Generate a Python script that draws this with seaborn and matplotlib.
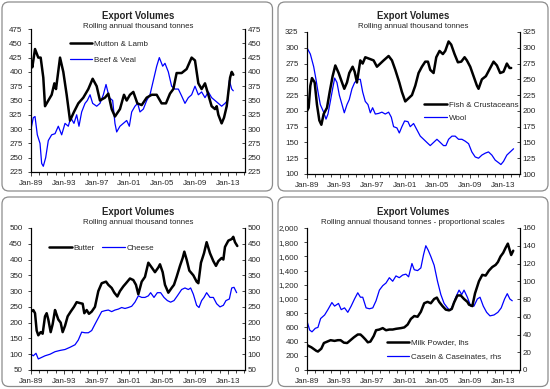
import matplotlib
matplotlib.use("Agg")
import matplotlib.pyplot as plt
import seaborn as sns
import pandas as pd
import numpy as np
from matplotlib.patches import FancyBboxPatch
from matplotlib.transforms import IdentityTransform
from matplotlib.ticker import FuncFormatter, MultipleLocator

sns.set_style("white")
plt.rcParams['font.family'] = ['Liberation Sans', 'DejaVu Sans']

# ---------------- data (decimal years, values) ----------------
mutton_t = [1989.0,1989.16,1989.49,1989.89,1990.18,1990.5,1990.71,1991.11,1991.52,1991.85,1992.05,1992.54,1992.94,1993.35,1993.76,1994.24,1994.77,1995.38,1995.99,1996.52,1997.01,1997.41,1998.02,1998.43,1998.84,1999.24,1999.85,2000.34,2000.67,2001.07,2001.48,2001.97,2002.5,2003.11,2003.72,2004.33,2004.93,2005.46,2005.95,2006.36,2006.76,2007.37,2007.98,2008.59,2009.0,2009.41,2009.81,2010.22,2010.63,2011.03,2011.44,2011.65,2011.85,2012.25,2012.54,2012.87,2013.28,2013.48,2013.67]
mutton_v = [420,408,440,425,425,390,340,350,360,380,370,425,400,360,315,330,345,355,370,388,375,350,355,362,335,322,335,360,350,360,365,345,342,355,360,360,345,345,362,370,398,398,405,425,420,380,370,380,360,340,335,340,325,310,320,340,390,400,395]

beef_t = [1989.0,1989.28,1989.49,1989.77,1990.1,1990.3,1990.5,1990.79,1991.11,1991.52,1991.93,1992.33,1992.74,1993.15,1993.55,1993.84,1994.24,1994.57,1994.85,1995.18,1995.59,1995.87,1996.2,1996.52,1997.01,1997.41,1997.82,1998.15,1998.55,1998.96,1999.24,1999.45,1999.85,2000.26,2000.67,2000.99,2001.28,2001.68,2002.01,2002.29,2002.7,2003.11,2003.51,2003.92,2004.33,2004.65,2005.06,2005.34,2005.75,2006.15,2006.56,2006.97,2007.37,2007.78,2008.19,2008.59,2009.0,2009.41,2009.81,2010.22,2010.63,2011.03,2011.44,2011.85,2012.25,2012.66,2012.98,2013.19,2013.48,2013.67]
beef_v = [300,320,322,290,275,240,235,250,280,290,292,305,290,310,305,320,310,325,305,330,345,350,360,345,340,345,360,378,355,350,310,295,305,310,315,305,330,340,345,330,335,350,360,385,410,425,410,415,400,375,370,370,358,345,355,360,375,360,365,355,365,355,350,345,340,345,350,385,370,367]

fish_t = [1989.0,1989.2,1989.41,1989.61,1989.94,1990.22,1990.51,1990.76,1991.04,1991.45,1991.78,1992.14,1992.47,1992.88,1993.29,1993.57,1993.9,1994.18,1994.59,1994.84,1995.12,1995.53,1995.82,1996.14,1996.76,1997.16,1997.57,1997.98,1998.39,1999.0,1999.41,1999.82,2000.31,2000.63,2001.04,2001.45,2001.86,2002.27,2002.67,2003.08,2003.49,2003.82,2004.1,2004.51,2004.84,2005.24,2005.65,2005.94,2006.35,2006.67,2007.08,2007.49,2007.9,2008.31,2008.59,2009.0,2009.41,2009.82,2010.02,2010.43,2010.92,2011.45,2011.86,2012.27,2012.67,2013.08,2013.49,2013.82,2014.02]
fish_v = [200,205,240,252,245,210,185,178,195,205,230,255,272,260,245,235,245,260,270,262,245,280,275,285,282,280,270,275,280,287,280,265,245,230,215,220,225,240,260,270,278,278,265,260,285,295,290,295,310,305,290,277,278,285,280,270,255,240,235,250,255,268,278,272,260,262,275,268,268]

wool_t = [1989.0,1989.41,1989.82,1990.1,1990.35,1990.63,1991.04,1991.33,1991.57,1991.86,1992.14,1992.39,1992.67,1992.96,1993.29,1993.57,1993.9,1994.18,1994.51,1994.84,1995.24,1995.53,1995.82,1996.14,1996.47,1996.76,1997.04,1997.37,1997.78,1998.18,1998.59,1999.0,1999.33,1999.61,2000.02,2000.31,2000.63,2000.96,2001.37,2001.65,2002.06,2002.47,2002.88,2003.29,2003.69,2004.1,2004.51,2004.92,2005.33,2005.73,2006.02,2006.35,2006.76,2007.16,2007.57,2007.98,2008.39,2008.8,2009.2,2009.61,2010.02,2010.43,2010.84,2011.24,2011.65,2012.06,2012.47,2012.76,2013.08,2013.49,2013.9,2014.31]
wool_v = [300,290,270,250,230,210,198,187,195,215,235,252,245,225,210,197,210,218,235,245,250,250,230,215,210,197,205,195,196,198,195,198,190,175,173,165,175,184,183,175,180,170,160,155,150,145,150,155,150,145,145,155,160,160,155,155,152,148,135,127,125,130,133,135,130,122,118,115,120,130,135,140]

butter_t = [1989.0,1989.28,1989.49,1989.69,1989.89,1990.18,1990.42,1990.71,1990.91,1991.11,1991.4,1991.64,1991.93,1992.13,1992.33,1992.62,1992.86,1993.15,1993.47,1993.84,1994.24,1994.57,1994.98,1995.3,1995.5,1995.79,1996.07,1996.4,1996.8,1997.21,1997.62,1998.15,1998.43,1998.84,1999.16,1999.53,1999.85,2000.26,2000.59,2001.07,2001.48,2001.8,2002.09,2002.5,2002.9,2003.31,2003.72,2004.12,2004.53,2004.73,2005.06,2005.34,2005.75,2006.15,2006.44,2006.76,2007.17,2007.5,2007.7,2007.98,2008.31,2008.8,2009.2,2009.41,2009.73,2010.1,2010.42,2010.83,2011.24,2011.56,2011.85,2012.25,2012.46,2012.66,2013.07,2013.48,2013.67,2013.88,2014.16]
butter_v = [235,240,230,175,160,170,165,220,230,210,170,195,240,225,210,200,170,190,220,235,250,265,262,260,230,240,228,235,250,300,325,330,320,310,295,283,300,315,325,340,335,320,290,330,345,390,375,360,375,385,360,320,295,310,320,345,380,405,425,400,365,350,330,325,390,420,455,420,395,380,395,405,400,440,460,465,472,455,443]

cheese_t = [1989.0,1989.28,1989.61,1989.89,1990.3,1990.71,1991.32,1991.93,1992.54,1993.15,1993.76,1994.37,1994.77,1995.18,1995.59,1995.99,1996.4,1996.8,1997.21,1997.62,1998.02,1998.43,1998.84,1999.24,1999.65,2000.06,2000.46,2000.87,2001.28,2001.68,2002.09,2002.5,2002.9,2003.31,2003.59,2004.0,2004.41,2004.81,2005.22,2005.63,2006.03,2006.44,2006.85,2007.37,2007.78,2008.19,2008.47,2008.8,2009.2,2009.49,2009.81,2010.1,2010.42,2010.83,2011.24,2011.64,2012.05,2012.46,2012.78,2013.19,2013.48,2013.76,2014.08]
cheese_v = [100,95,103,85,90,95,100,108,112,115,122,130,145,170,168,168,175,195,215,235,238,240,235,240,243,248,245,248,252,265,285,280,280,285,295,280,295,295,280,270,265,270,285,305,310,305,310,290,255,248,270,280,295,280,280,260,250,255,270,275,310,312,295]

milk_t = [1989.0,1989.53,1990.14,1990.34,1990.75,1991.07,1991.48,1991.89,1992.38,1992.78,1993.11,1993.52,1993.92,1994.33,1994.74,1995.22,1995.55,1995.83,1996.16,1996.45,1996.77,1997.18,1997.46,1997.87,1998.28,1998.68,1999.09,1999.5,1999.9,2000.51,2000.92,2001.33,2001.73,2002.14,2002.55,2002.95,2003.36,2003.77,2004.17,2004.58,2004.91,2005.19,2005.6,2006.01,2006.41,2006.74,2007.02,2007.43,2007.84,2008.24,2008.65,2008.85,2009.26,2009.59,2010.07,2010.48,2010.89,2011.29,2011.7,2012.11,2012.39,2012.72,2013.04,2013.33,2013.61,2013.86,2014.02,2014.27]
milk_v = [350,320,270,260,300,380,400,420,410,420,420,385,380,420,460,500,500,470,430,390,400,480,560,570,590,560,570,570,580,590,600,640,720,760,750,820,940,960,940,1000,1020,960,900,850,840,860,950,1050,1050,1000,960,920,900,1080,1250,1340,1330,1400,1450,1480,1520,1600,1650,1720,1780,1680,1620,1680]

casein_t = [1989.0,1989.33,1989.61,1990.02,1990.34,1990.67,1991.16,1991.56,1992.05,1992.38,1992.86,1993.19,1993.6,1994.0,1994.41,1994.82,1995.22,1995.55,1995.83,1996.24,1996.65,1997.06,1997.46,1997.87,1998.28,1998.68,1999.09,1999.5,1999.9,2000.31,2000.72,2001.12,2001.45,2001.86,2002.14,2002.55,2002.95,2003.28,2003.56,2003.85,2004.17,2004.58,2004.99,2005.4,2005.8,2006.21,2006.53,2006.82,2007.23,2007.63,2007.96,2008.24,2008.65,2009.06,2009.46,2009.87,2010.2,2010.6,2011.01,2011.42,2011.91,2012.39,2012.8,2013.21,2013.54,2013.86,2014.15]
casein_v = [55,45,43,47,48,58,62,68,76,72,75,68,70,65,72,80,87,82,82,70,69,70,78,90,95,98,104,100,106,104,107,108,105,120,113,112,115,130,140,135,128,118,100,85,75,70,67,72,82,90,85,90,82,72,72,80,82,72,65,61,62,65,70,80,86,80,78]

xtick_years = [1989, 1993, 1997, 2001, 2005, 2009, 2013]
xtick_labels = ["Jan-89", "Jan-93", "Jan-97", "Jan-01", "Jan-05", "Jan-09", "Jan-13"]

TITLE = "Export Volumes"
SUB = "Rolling annual thousand tonnes"
SUB4 = "Rolling annual thousand tonnes - proportional scales"

# ---------------- figure ----------------
W, H = 550, 389
fig = plt.figure(figsize=(W / 100, H / 100), dpi=100)
fig.patch.set_facecolor("white")

BLACK = "#000000"
BLUE = "#0000FF"
FS_TICK = 5.8
FS_LEG = 5.8
LW_BLACK = 1.8
LW_BLUE = 0.9


def px_axes(l, t, r, b):
    return fig.add_axes([l / W, 1 - b / H, (r - l) / W, (b - t) / H])


def frame(l, t, r, b):
    p = FancyBboxPatch((l, H - b), r - l, b - t,
                       boxstyle="round,pad=0,rounding_size=7",
                       transform=IdentityTransform(), facecolor="none",
                       edgecolor="#8c8c8c", linewidth=0.9)
    fig.add_artist(p)


def style(ax, ylim, yticks, fmt=None):
    ax.set_xlim(1989, 2015.1)
    ax.set_ylim(*ylim)
    ax.set_yticks(yticks)
    ax.set_xticks(xtick_years)
    ax.set_xticklabels(xtick_labels)
    ax.xaxis.set_minor_locator(MultipleLocator(1))
    ax.set_xlabel("")
    ax.set_ylabel("")
    ax.spines["top"].set_visible(False)
    for s in ["left", "right", "bottom"]:
        ax.spines[s].set_color("#000000")
        ax.spines[s].set_linewidth(0.8)
    ax.tick_params(axis="x", which="both", direction="out", length=3, width=0.6,
                   labelsize=FS_TICK, pad=2.8, bottom=True)
    ax.tick_params(axis="x", which="minor", length=2)
    ax.tick_params(axis="y", direction="out", length=2.5, width=0.6,
                   labelsize=FS_TICK, pad=3.5, left=True)
    if fmt:
        ax.yaxis.set_major_formatter(fmt)
    ax.grid(False)


def right_axis(ax, ylim, yticks, fmt=None):
    ax2 = ax.twinx()
    ax2.set_ylim(*ylim)
    ax2.set_yticks(yticks)
    ax2.spines["top"].set_visible(False)
    for s in ["left", "right", "bottom"]:
        ax2.spines[s].set_color("#000000")
        ax2.spines[s].set_linewidth(0.8)
    ax2.tick_params(axis="y", direction="in", length=2.5, width=0.6,
                    labelsize=FS_TICK, pad=2, right=True)
    if fmt:
        ax2.yaxis.set_major_formatter(fmt)
    ax2.set_ylabel("")
    ax2.grid(False)
    return ax2


def titles(cx, ty, sy, sub):
    fig.text(cx / W, 1 - ty / H, TITLE, ha="center", va="center",
             fontsize=6.9, fontweight="bold")
    fig.text(cx / W, 1 - sy / H, sub, ha="center", va="center", fontsize=5.7)


def line(ax, t, v, color, lw, label):
    df = pd.DataFrame({"t": t, "v": v})
    sns.lineplot(data=df, x="t", y="v", ax=ax, color=color, linewidth=lw,
                 label=label, legend=False)


# frames
frame(2, 2, 272.5, 191)
frame(278, 2, 548, 191)
frame(2, 197, 272.5, 386.5)
frame(278, 197, 548, 386.5)

# ---- Panel 1: Mutton & Lamb / Beef & Veal ----
ax1 = px_axes(31, 29, 245, 172)
line(ax1, beef_t, beef_v, BLUE, LW_BLUE, "Beef & Veal")
line(ax1, mutton_t, mutton_v, BLACK, LW_BLACK, "Mutton & Lamb")
style(ax1, (225, 475), range(225, 476, 25))
right_axis(ax1, (225, 475), range(225, 476, 25))
h, l = ax1.get_legend_handles_labels()
ax1.legend(h[::-1], l[::-1], loc="upper left", bbox_to_anchor=(0.18, 0.919),
           frameon=False, fontsize=FS_LEG, handlelength=2.8, handletextpad=0.25,
           labelspacing=1.05, borderpad=0, borderaxespad=0)
titles(138, 16, 26, SUB)

# ---- Panel 2: Fish / Wool ----
ax2 = px_axes(307, 32, 520, 174)
line(ax2, wool_t, wool_v, BLUE, LW_BLUE, "Wool")
line(ax2, fish_t, fish_v, BLACK, LW_BLACK, "Fish & Crustaceans")
style(ax2, (100, 325), range(100, 326, 25))
right_axis(ax2, (100, 325), range(100, 326, 25))
h, l = ax2.get_legend_handles_labels()
ax2.legend(h[::-1], l[::-1], loc="upper left", bbox_to_anchor=(0.55, 0.515),
           frameon=False, fontsize=FS_LEG, handlelength=2.8, handletextpad=0.25,
           labelspacing=0.75, borderpad=0, borderaxespad=0)
titles(413, 16, 26, SUB)

# ---- Panel 3: Butter / Cheese ----
ax3 = px_axes(31, 228, 245, 370)
line(ax3, cheese_t, cheese_v, BLUE, LW_BLUE, "Cheese")
line(ax3, butter_t, butter_v, BLACK, LW_BLACK, "Butter")
style(ax3, (50, 500), range(50, 501, 50))
right_axis(ax3, (50, 500), range(50, 501, 50))
h, l = ax3.get_legend_handles_labels()
ax3.legend(h[::-1], l[::-1], loc="upper left", bbox_to_anchor=(0.085, 0.884),
           frameon=False, fontsize=FS_LEG, handlelength=2.8, handletextpad=0.25,
           ncol=2, columnspacing=0.9, borderpad=0, borderaxespad=0)
titles(138, 212, 222, SUB)

# ---- Panel 4: Milk powder / Casein ----
comma = FuncFormatter(lambda x, p: f"{int(x):,}")
ax4 = px_axes(307, 228, 520, 370)
style(ax4, (0, 2000), range(0, 2001, 200), comma)
ax4r = right_axis(ax4, (0, 160), range(0, 161, 20))
line(ax4r, casein_t, casein_v, BLUE, LW_BLUE, "Casein & Caseinates, rhs")
line(ax4, milk_t, milk_v, BLACK, LW_BLACK, "Milk Powder, lhs")
ax4.set_zorder(ax4r.get_zorder() + 1)
ax4.patch.set_visible(False)
ax4.set_xlabel(""); ax4.set_ylabel("")
ax4r.set_xlabel(""); ax4r.set_ylabel("")
h1, l1 = ax4.get_legend_handles_labels()
h2, l2 = ax4r.get_legend_handles_labels()
ax4.legend(h1 + h2, l1 + l2, loc="upper left", bbox_to_anchor=(0.375, 0.22),
           frameon=False, fontsize=FS_LEG, handlelength=2.8, handletextpad=0.25,
           labelspacing=0.8, borderpad=0, borderaxespad=0)
titles(413, 212, 222, SUB4)

fig.savefig("out.png", dpi=100, facecolor="white")
